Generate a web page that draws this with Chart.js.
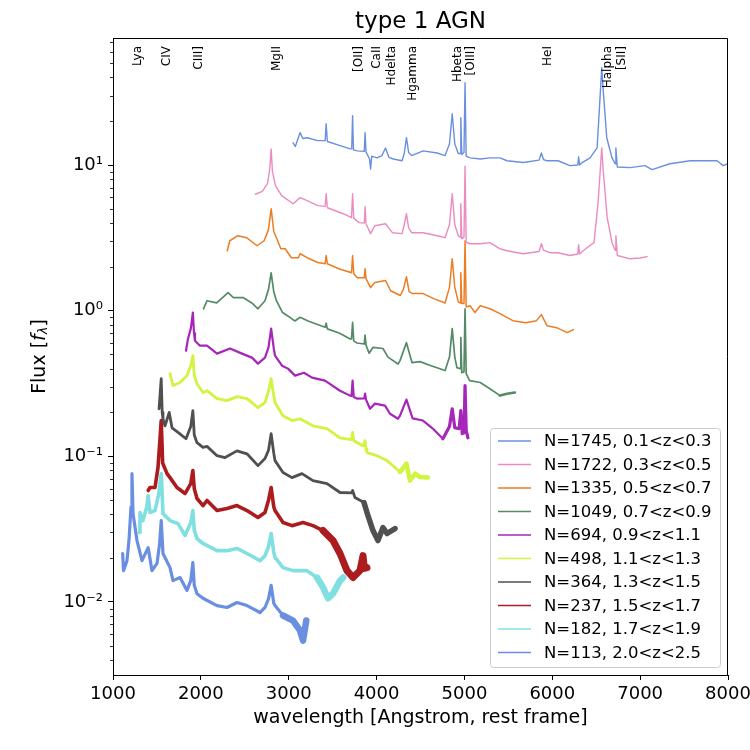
<!DOCTYPE html>
<html>
<head>
<meta charset="utf-8">
<script src="https://cdn.jsdelivr.net/npm/chart.js@4.4.1/dist/chart.umd.min.js"></script>
<style>
  body { margin: 0; background: #fff; }
  #wrap { width: 750px; height: 750px; }
</style>
</head>
<body>
<div id="wrap"><canvas id="spec_chart"></canvas></div>
<script>
// composite spectra, [wavelength, flux]
const spec1 = [[3050,14.2],[3075,13.4],[3130,16.7],[3160,15.2],[3210,15.4],[3330,14.7],[3415,14.7],[3426,19.2],[3440,14.5],[3585,13.6],[3700,12.9],[3717,12.9],[3727,21.8],[3737,12.7],[3780,12.5],[3860,12.4],[3869,16.7],[3880,12.3],[3920,11.0],[3932,9.4],[3945,11.5],[4005,11.2],[4060,11.6],[4102,13.1],[4140,11.3],[4190,11.0],[4290,10.7],[4315,12.0],[4340,15.4],[4365,12.2],[4400,11.6],[4530,12.5],[4690,12.1],[4780,11.6],[4830,14.0],[4861,22.5],[4890,14.0],[4930,12.0],[4950,12.0],[4959,21.1],[4970,11.8],[4995,12.2],[5007,36.7],[5020,11.5],[5065,11.2],[5180,11.0],[5290,11.2],[5405,11.2],[5485,10.7],[5670,10.4],[5850,10.8],[5876,12.1],[5900,10.9],[5940,10.7],[6065,10.7],[6200,9.9],[6290,10.0],[6300,11.4],[6310,10.0],[6340,10.4],[6430,11.2],[6510,13.1],[6535,23.6],[6563,46.5],[6580,32.4],[6620,15.4],[6680,11.2],[6715,10.2],[6724,13.1],[6740,9.7],[6885,9.6],[7055,9.9],[7135,9.3],[7340,10.2],[7570,10.7],[7875,10.7],[7945,9.9],[8000,10.2]];
const spec2 = [[2620,6.3],[2700,6.6],[2760,7.5],[2785,9.5],[2800,12.9],[2815,9.0],[2850,7.2],[2920,6.16],[3050,5.42],[3130,5.97],[3210,5.69],[3330,5.26],[3415,5.2],[3426,6.35],[3440,5.09],[3620,4.63],[3715,4.35],[3727,6.35],[3740,4.3],[3800,4.02],[3860,4.0],[3869,5.17],[3880,3.95],[3932,3.38],[3980,3.83],[4102,3.95],[4180,3.43],[4290,3.38],[4315,3.9],[4340,4.63],[4365,3.7],[4400,3.43],[4530,3.43],[4690,3.27],[4780,3.17],[4830,3.9],[4861,6.35],[4890,3.9],[4930,3.27],[4950,3.2],[4959,5.42],[4970,3.12],[4995,3.2],[5007,9.8],[5020,2.95],[5065,2.88],[5180,2.88],[5290,2.93],[5405,2.66],[5485,2.58],[5670,2.46],[5850,2.55],[5876,2.88],[5900,2.6],[5970,2.50],[6065,2.50],[6200,2.39],[6290,2.45],[6300,2.84],[6310,2.45],[6380,2.66],[6475,2.93],[6520,5.42],[6545,9.0],[6563,13.1],[6580,9.14],[6625,4.35],[6680,2.93],[6715,2.6],[6724,3.27],[6740,2.39],[6885,2.27],[7000,2.3],[7080,2.35]];
const spec3 = [[2300,2.58],[2330,3.02],[2420,3.27],[2520,3.17],[2640,2.79],[2720,3.02],[2770,3.6],[2800,5.01],[2830,3.5],[2860,3.17],[2910,2.66],[2960,2.66],[3030,2.31],[3110,2.31],[3130,2.46],[3210,2.31],[3330,2.14],[3415,2.10],[3426,2.39],[3440,2.10],[3570,1.94],[3715,1.82],[3727,2.39],[3740,1.80],[3780,1.68],[3860,1.68],[3869,1.94],[3880,1.66],[3932,1.44],[3980,1.56],[4102,1.61],[4160,1.37],[4270,1.27],[4305,1.4],[4340,1.71],[4370,1.35],[4410,1.31],[4530,1.31],[4650,1.21],[4780,1.13],[4830,1.45],[4861,2.27],[4890,1.45],[4930,1.15],[4950,1.13],[4959,1.82],[4970,1.12],[4995,1.12],[5007,3.02],[5020,1.06],[5065,1.08],[5120,0.97],[5180,1.08],[5290,1.03],[5405,0.954],[5550,0.854],[5700,0.827],[5820,0.854],[5876,0.939],[5940,0.789],[6050,0.764],[6170,0.706],[6240,0.741]];
const spec4 = [[2030,1.03],[2070,1.17],[2180,1.13],[2310,1.33],[2370,1.23],[2480,1.23],[2580,1.13],[2650,1.03],[2730,1.17],[2770,1.4],[2800,1.82],[2830,1.35],[2860,1.17],[2930,0.97],[2990,0.92],[3070,0.85],[3130,0.90],[3220,0.85],[3415,0.77],[3426,0.82],[3440,0.75],[3580,0.70],[3700,0.64],[3715,0.64],[3727,0.83],[3740,0.62],[3777,0.60],[3860,0.59],[3869,0.68],[3880,0.58],[3915,0.51],[3960,0.56],[4073,0.55],[4130,0.48],[4244,0.43],[4267,0.454],[4340,0.603],[4403,0.440],[4494,0.447],[4620,0.419],[4780,0.388],[4830,0.48],[4861,0.752],[4890,0.48],[4915,0.406],[4950,0.40],[4959,0.653],[4970,0.375],[4995,0.38],[5007,1.03],[5020,0.37],[5060,0.331],[5180,0.321],[5290,0.291],[5405,0.261],[5485,0.269],[5575,0.274]];
const spec5 = [[1831,0.531],[1854,0.642],[1885,0.75],[1909,0.969],[1922,0.7],[1933,0.622],[1990,0.575],[2070,0.575],[2184,0.507],[2332,0.549],[2468,0.507],[2582,0.476],[2650,0.433],[2730,0.476],[2770,0.56],[2800,0.752],[2830,0.55],[2844,0.491],[2924,0.419],[2992,0.400],[3072,0.358],[3174,0.375],[3265,0.347],[3413,0.331],[3584,0.282],[3698,0.261],[3715,0.26],[3727,0.331],[3740,0.255],[3777,0.249],[3860,0.25],[3869,0.269],[3880,0.245],[3925,0.212],[3982,0.230],[4096,0.223],[4153,0.196],[4244,0.181],[4267,0.19],[4340,0.245],[4410,0.182],[4528,0.176],[4640,0.155],[4755,0.132],[4830,0.16],[4861,0.212],[4890,0.157],[4940,0.155],[4959,0.206],[4975,0.143],[4995,0.145],[5007,0.306],[5020,0.150],[5040,0.134]];
const spec6 = [[1650,0.369],[1683,0.306],[1763,0.321],[1842,0.358],[1885,0.42],[1909,0.491],[1925,0.36],[1956,0.315],[2024,0.274],[2070,0.282],[2184,0.249],[2298,0.241],[2411,0.257],[2525,0.249],[2650,0.216],[2730,0.234],[2770,0.28],[2800,0.341],[2830,0.26],[2844,0.234],[2935,0.190],[3037,0.176],[3128,0.181],[3276,0.162],[3436,0.155],[3584,0.134],[3715,0.13],[3727,0.146],[3740,0.128],[3846,0.118],[3869,0.128],[3880,0.112],[3891,0.106],[4005,0.101],[4119,0.0934],[4267,0.078],[4340,0.0891],[4380,0.0681],[4440,0.076],[4494,0.072],[4585,0.0714]];
const spec7 = [[1524,0.212],[1549,0.341],[1560,0.2],[1569,0.181],[1592,0.162],[1640,0.200],[1672,0.157],[1740,0.146],[1831,0.132],[1885,0.16],[1909,0.206],[1925,0.14],[1956,0.124],[2024,0.115],[2070,0.117],[2184,0.101],[2275,0.098],[2411,0.109],[2525,0.104],[2650,0.0863],[2730,0.0965],[2770,0.11],[2800,0.143],[2830,0.105],[2844,0.0934],[2935,0.0773],[3037,0.0714],[3151,0.0760],[3276,0.0681],[3436,0.0650],[3584,0.0564],[3715,0.056],[3727,0.0582],[3754,0.0521],[3857,0.0481],[3891,0.0411],[3959,0.0309],[4016,0.0264],[4073,0.0324],[4119,0.0295],[4210,0.0319]];
const spec8 = [[1400,0.0582],[1421,0.0610],[1478,0.0610],[1512,0.0836],[1530,0.12],[1549,0.176],[1565,0.09],[1615,0.0760],[1649,0.0714],[1728,0.0610],[1820,0.0555],[1885,0.065],[1909,0.0798],[1925,0.06],[1956,0.0513],[2024,0.0459],[2070,0.0497],[2184,0.0424],[2298,0.0438],[2411,0.0459],[2525,0.0424],[2650,0.0380],[2730,0.0411],[2770,0.05],[2800,0.0610],[2830,0.045],[2844,0.0424],[2935,0.0351],[3037,0.0334],[3163,0.0351],[3276,0.0334],[3390,0.0309],[3504,0.0264],[3584,0.0215],[3663,0.0164],[3732,0.0147],[3811,0.0164],[3846,0.0208],[3860,0.017],[3891,0.0172]];
const spec9 = [[1296,0.0300],[1307,0.0411],[1341,0.0362],[1385,0.045],[1400,0.0537],[1421,0.0411],[1478,0.0424],[1520,0.055],[1549,0.0760],[1569,0.0404],[1649,0.0362],[1740,0.0345],[1820,0.0286],[1885,0.035],[1909,0.0424],[1925,0.031],[1956,0.0272],[2024,0.0252],[2184,0.0225],[2298,0.0225],[2411,0.0233],[2525,0.0215],[2673,0.0192],[2730,0.0208],[2770,0.024],[2800,0.0295],[2830,0.022],[2844,0.0202],[2935,0.0172],[3049,0.0164],[3208,0.0164],[3322,0.0147],[3390,0.0126],[3447,0.0106],[3504,0.0114],[3584,0.0140],[3620,0.0147]];
const spec10 = [[1110,0.0215],[1120,0.0164],[1159,0.0192],[1182,0.0264],[1205,0.045],[1216,0.0760],[1228,0.0404],[1273,0.0264],[1330,0.0192],[1400,0.0236],[1444,0.0164],[1501,0.0184],[1530,0.025],[1549,0.0362],[1569,0.0215],[1649,0.0172],[1683,0.0140],[1763,0.0147],[1842,0.0120],[1885,0.014],[1909,0.0186],[1925,0.013],[1956,0.0114],[2024,0.0106],[2184,0.00944],[2298,0.00916],[2411,0.00991],[2525,0.00944],[2673,0.00846],[2730,0.00916],[2770,0.0105],[2800,0.0130],[2830,0.0098],[2844,0.00944],[2935,0.00807],[3049,0.00745],[3128,0.00637],[3163,0.00543],[3200,0.00745]];

const seriesLabels = ["N=1745, 0.1<z<0.3", "N=1722, 0.3<z<0.5", "N=1335, 0.5<z<0.7", "N=1049, 0.7<z<0.9",
    "N=694, 0.9<z<1.1", "N=498, 1.1<z<1.3", "N=364, 1.3<z<1.5", "N=237, 1.5<z<1.7",
    "N=182, 1.7<z<1.9", "N=113, 2.0<z<2.5"];

// emission line markers along the top
const lineNames = ["Lya", "CIV", "CIII]", "MgII", "[OII]", "CaII", "Hdelta", "Hgamma", "Hbeta", "[OIII]", "HeI", "Halpha", "[SII]"];
const lineWaves = [1216, 1549, 1909, 2800, 3727, 3934, 4102, 4340, 4861, 5007, 5876, 6563, 6724];

const xTicks = [1000, 2000, 3000, 4000, 5000, 6000, 7000, 8000];
const yTicks = [0.01, 0.1, 1, 10];
const yTickLabels = ["10\u207B\u00B2", "10\u207B\u00B9", "10\u2070", "10\u00B9"];

const colors = ["#6a8fe0", "#eb8bbf", "#ec7d22", "#558a66", "#a526b8", "#d0f440", "#505050", "#ac1c1f", "#80dfe0", "#6a8fe0"];
const widths = [1.4, 1.4, 1.5, 1.7, 2.2, 2.8, 2.8, 3.6, 3.6, 3.2];
// the noisy red ends of the spectra are drawn as a wider band
const noisyFrom = [9000, 9000, 9000, 5300, 4700, 4250, 3800, 3300, 3250, 2900];
const noisyWidths = [0, 0, 0, 2.6, 3.2, 4.5, 5.5, 7, 6.5, 6.5];

const FONT = '"DejaVu Sans", sans-serif';
const allSpectra = [spec1, spec2, spec3, spec4, spec5, spec6, spec7, spec8, spec9, spec10];

const datasets = allSpectra.map((s, i) => ({
    label: seriesLabels[i],
    data: s.map(p => ({ x: p[0], y: p[1] })),
    borderColor: colors[i],
    backgroundColor: colors[i],
    borderWidth: widths[i],
    borderJoinStyle: "round",
    borderCapStyle: "round",
    pointRadius: 0,
    tension: 0,
    fill: false,
    segment: {
        borderWidth: c => (c.p0.parsed.x >= noisyFrom[i] ? noisyWidths[i] : widths[i])
    }
}));

const decorations = {
    id: "decorations",
    afterDraw(chart) {
        const { ctx, chartArea: a, scales } = chart;
        const xs = scales.x, ys = scales.y;
        ctx.save();

        // top and right frame
        ctx.strokeStyle = "#000";
        ctx.lineWidth = 1;
        ctx.beginPath();
        ctx.moveTo(a.left, a.top + 0.5);
        ctx.lineTo(a.right - 0.5, a.top + 0.5);
        ctx.lineTo(a.right - 0.5, a.bottom);
        ctx.stroke();

        // minor log ticks
        ctx.lineWidth = 0.8;
        for (let k = -3; k <= 1; k++) {
            for (let m = 2; m <= 9; m++) {
                const v = m * Math.pow(10, k);
                if (v < ys.min || v > ys.max) continue;
                const py = Math.round(ys.getPixelForValue(v)) + 0.5;
                ctx.beginPath();
                ctx.moveTo(a.left - 3, py);
                ctx.lineTo(a.left, py);
                ctx.stroke();
            }
        }

        // line names
        ctx.fillStyle = "#000";
        ctx.font = "12px " + FONT;
        ctx.textAlign = "right";
        ctx.textBaseline = "top";
        lineNames.forEach((name, i) => {
            const px = xs.getPixelForValue(lineWaves[i]);
            ctx.save();
            ctx.translate(px, a.top + 8);
            ctx.rotate(-Math.PI / 2);
            ctx.fillText(name, 0, 0);
            ctx.restore();
        });

        // y axis title with italic f_lambda
        const cy = (a.top + a.bottom) / 2;
        ctx.save();
        ctx.translate(40, cy);
        ctx.rotate(-Math.PI / 2);
        ctx.textAlign = "left";
        ctx.textBaseline = "middle";
        const parts = [
            ["Flux [", "19px " + FONT, 0],
            ["f", "italic 19px " + FONT, 0],
            ["\u03BB", "italic 13px " + FONT, 4],
            ["]", "19px " + FONT, 0]
        ];
        let total = 0;
        parts.forEach(p => { ctx.font = p[1]; total += ctx.measureText(p[0]).width; });
        let tx = -total / 2;
        parts.forEach(p => {
            ctx.font = p[1];
            ctx.fillText(p[0], tx, p[2]);
            tx += ctx.measureText(p[0]).width;
        });
        ctx.restore();

        // legend box
        const bw = 230, bh = 239;
        const bx = a.right - 8 - bw, by = a.bottom - 8 - bh;
        ctx.fillStyle = "rgba(255,255,255,0.8)";
        ctx.strokeStyle = "#cccccc";
        ctx.lineWidth = 1;
        ctx.beginPath();
        ctx.roundRect(bx + 0.5, by + 0.5, bw, bh, 3);
        ctx.fill();
        ctx.stroke();
        ctx.font = "16.5px " + FONT;
        ctx.textAlign = "left";
        ctx.textBaseline = "middle";
        chart.data.datasets.forEach((ds, i) => {
            const ry = by + 13 + i * 23.5;
            ctx.strokeStyle = ds.borderColor;
            ctx.lineWidth = 1.5;
            ctx.lineCap = "butt";
            ctx.beginPath();
            ctx.moveTo(bx + 8, ry);
            ctx.lineTo(bx + 41, ry);
            ctx.stroke();
            ctx.fillStyle = "#000";
            ctx.fillText(ds.label, bx + 54, ry + 1);
        });

        ctx.restore();
    }
};

new Chart(document.getElementById("spec_chart"), {
    type: "line",
    data: { datasets: datasets },
    options: {
        responsive: true,
        maintainAspectRatio: false,
        animation: false,
        layout: { padding: 0 },
        plugins: {
            legend: { display: false },
            tooltip: { enabled: false },
            title: {
                display: true,
                text: "type 1 AGN",
                fullSize: false,
                color: "#000",
                font: { family: FONT, size: 23, weight: "normal", lineHeight: 1.2 },
                padding: { top: 8, bottom: 2.4 }
            }
        },
        scales: {
            x: {
                type: "linear",
                min: 1000,
                max: 8000,
                afterFit: s => {
                    s.height = 75;
                    s.paddingLeft = 0;
                    s.paddingRight = 22;
                },
                afterBuildTicks: s => { s.ticks = xTicks.map(v => ({ value: v })); },
                ticks: {
                    color: "#000",
                    font: { family: FONT, size: 18 },
                    padding: 4,
                    maxRotation: 0,
                    callback: v => String(v)
                },
                grid: { drawOnChartArea: false, drawTicks: true, tickLength: 5, color: "#000" },
                border: { display: true, color: "#000", width: 1 },
                title: {
                    display: true,
                    text: "wavelength [Angstrom, rest frame]",
                    color: "#000",
                    font: { family: FONT, size: 19, lineHeight: 1.2 },
                    padding: { top: 0, bottom: 21 }
                }
            },
            y: {
                type: "logarithmic",
                min: 0.00315,
                max: 74.5,
                afterFit: s => { s.width = 113; },
                afterBuildTicks: s => { s.ticks = yTicks.map(v => ({ value: v })); },
                ticks: {
                    color: "#000",
                    font: { family: FONT, size: 18 },
                    padding: 5,
                    callback: v => {
                        const i = yTicks.indexOf(v);
                        return i >= 0 ? yTickLabels[i] : "";
                    }
                },
                grid: { drawOnChartArea: false, drawTicks: true, tickLength: 5, color: "#000" },
                border: { display: true, color: "#000", width: 1 }
            }
        }
    },
    plugins: [decorations]
});
</script>
</body>
</html>
